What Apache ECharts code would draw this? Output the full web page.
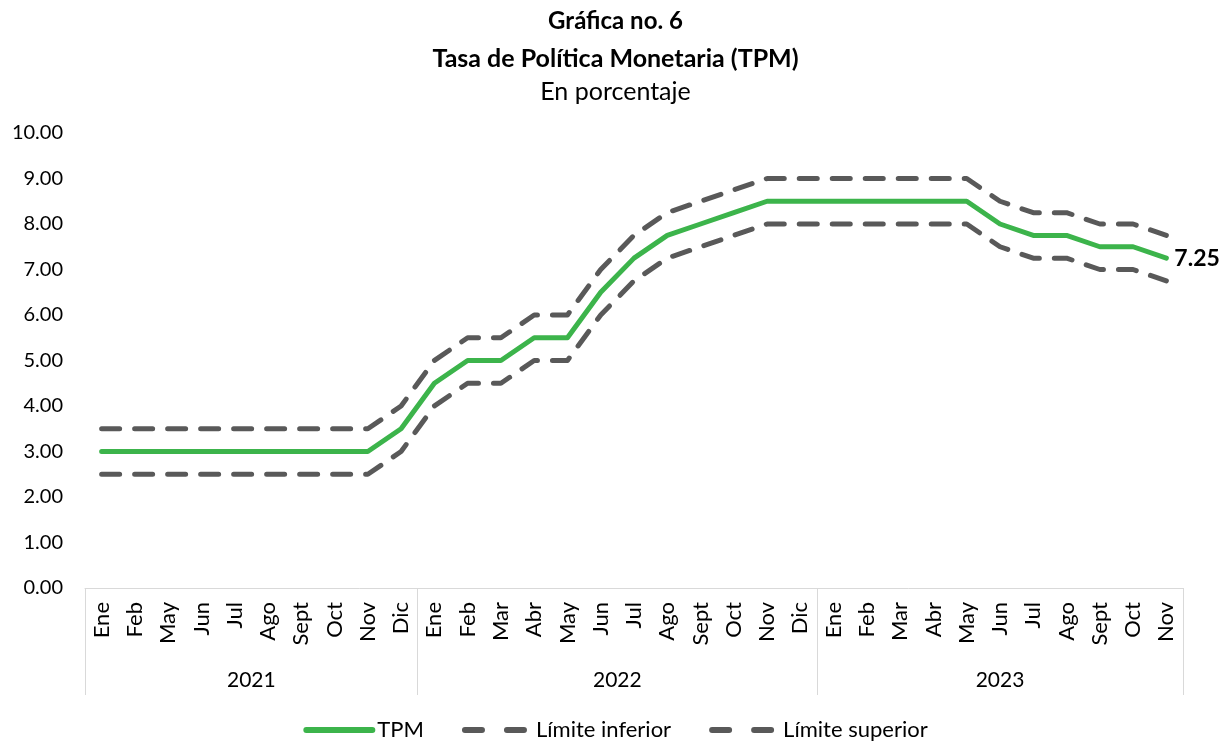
<!DOCTYPE html>
<html>
<head>
<meta charset="utf-8">
<title>Tasa de Política Monetaria (TPM)</title>
<script src="https://cdn.jsdelivr.net/npm/echarts@6/dist/echarts.min.js"></script>
<style>
  html, body { margin: 0; padding: 0; background: #fff; }
  #chart { width: 1231px; height: 746px; }
</style>
</head>
<body>
<div id="chart"></div>
<script>
// meses por año (eje de categorías de dos niveles)
const years = ["2021", "2022", "2023"];
const months2021 = ["Ene", "Feb", "May", "Jun", "Jul", "Ago", "Sept", "Oct", "Nov", "Dic"];
const months2022 = ["Ene", "Feb", "Mar", "Abr", "May", "Jun", "Jul", "Ago", "Sept", "Oct", "Nov", "Dic"];
const months2023 = ["Ene", "Feb", "Mar", "Abr", "May", "Jun", "Jul", "Ago", "Sept", "Oct", "Nov"];

// series (porcentaje)
const tpm = [3, 3, 3, 3, 3, 3, 3, 3, 3, 3.5,
  4.5, 5, 5, 5.5, 5.5, 6.5, 7.25, 7.75, 8, 8.25, 8.5, 8.5,
  8.5, 8.5, 8.5, 8.5, 8.5, 8, 7.75, 7.75, 7.5, 7.5, 7.25];
const limiteInferior = [2.5, 2.5, 2.5, 2.5, 2.5, 2.5, 2.5, 2.5, 2.5, 3,
  4, 4.5, 4.5, 5, 5, 6, 6.75, 7.25, 7.5, 7.75, 8, 8,
  8, 8, 8, 8, 8, 7.5, 7.25, 7.25, 7, 7, 6.75];
const limiteSuperior = [3.5, 3.5, 3.5, 3.5, 3.5, 3.5, 3.5, 3.5, 3.5, 4,
  5, 5.5, 5.5, 6, 6, 7, 7.75, 8.25, 8.5, 8.75, 9, 9,
  9, 9, 9, 9, 9, 8.5, 8.25, 8.25, 8, 8, 7.75];

const yTicks = [0, 1, 2, 3, 4, 5, 6, 7, 8, 9, 10];

const monthGroups = [months2021, months2022, months2023];
const categories = [].concat(...monthGroups);

// eje auxiliar en medios meses: etiqueta del año en el centro de cada grupo,
// marcas en los límites entre años
const halfSteps = [];
const boundaries = [0];
let pos = 0;
monthGroups.forEach((g, i) => {
  const mid = pos * 2 + g.length;
  for (let k = pos * 2; k < (pos + g.length) * 2; k++) {
    halfSteps.push(k === mid ? years[i] : "");
  }
  pos += g.length;
  boundaries.push(pos * 2);
});
halfSteps.push("");

const font = 'Lato, "Open Sans", sans-serif';
const green = "#3cb44b";
const gray = "#595959";
const axisGray = "#d9d9d9";

const chart = echarts.init(document.getElementById("chart"));
chart.setOption({
  animation: false,
  textStyle: { fontFamily: font },
  title: [
    { text: "Gráfica no. 6", left: "center", top: 4,
      textStyle: { fontSize: 24, fontWeight: "bold", color: "#000", fontFamily: font } },
    { text: "Tasa de Política Monetaria (TPM)", left: "center", top: 41,
      textStyle: { fontSize: 25, fontWeight: "bold", color: "#000", fontFamily: font } },
    { text: "En porcentaje", left: "center", top: 74,
      textStyle: { fontSize: 25, fontWeight: "normal", color: "#000", fontFamily: font } }
  ],
  legend: {
    bottom: 0,
    left: "center",
    itemWidth: 66,
    itemHeight: 14,
    itemGap: 38,
    itemStyle: { opacity: 0 },
    lineStyle: { width: 6 },
    textStyle: { fontSize: 22, color: "#000", fontFamily: font },
    data: [
      { name: "TPM" },
      { name: "Límite inferior", lineStyle: { type: [17, 25] } },
      { name: "Límite superior", lineStyle: { type: [17, 25] } }
    ]
  },
  grid: { left: 85, right: 48, top: 133, bottom: 158 },
  xAxis: [
    {
      type: "category",
      data: categories,
      position: "bottom",
      boundaryGap: true,
      axisLine: { lineStyle: { color: axisGray, width: 1 } },
      axisTick: { show: false },
      axisLabel: { interval: 0, rotate: 90, margin: 14, fontSize: 22, color: "#000", fontFamily: font }
    },
    {
      type: "category",
      data: halfSteps,
      position: "bottom",
      boundaryGap: false,
      axisLine: { show: false },
      axisTick: {
        show: true,
        length: 107,
        inside: false,
        interval: (index) => boundaries.indexOf(index) !== -1,
        lineStyle: { color: axisGray, width: 1 }
      },
      axisLabel: { interval: 0, margin: 82, fontSize: 21, color: "#000", fontFamily: font }
    }
  ],
  yAxis: {
    type: "value",
    min: yTicks[0],
    max: yTicks[yTicks.length - 1],
    interval: 1,
    axisLine: { show: false },
    axisTick: { show: false },
    splitLine: { show: false },
    axisLabel: {
      margin: 22,
      fontSize: 20,
      color: "#000",
      fontFamily: font,
      formatter: (v) => v.toFixed(2)
    }
  },
  series: [
    {
      name: "TPM",
      type: "line",
      xAxisIndex: 0,
      symbol: "none",
      z: 3,
      lineStyle: { color: green, width: 5, cap: "round", join: "round" },
      itemStyle: { color: green },
      endLabel: {
        show: true,
        distance: 8,
        formatter: (p) => p.value.toFixed(2),
        fontSize: 23,
        fontWeight: "bold",
        color: "#000",
        fontFamily: font
      },
      data: tpm
    },
    {
      name: "Límite inferior",
      type: "line",
      xAxisIndex: 0,
      symbol: "none",
      lineStyle: { color: gray, width: 5, type: [18, 15], cap: "round", join: "round" },
      itemStyle: { color: gray },
      data: limiteInferior
    },
    {
      name: "Límite superior",
      type: "line",
      xAxisIndex: 0,
      symbol: "none",
      lineStyle: { color: gray, width: 5, type: [18, 15], cap: "round", join: "round" },
      itemStyle: { color: gray },
      data: limiteSuperior
    }
  ]
});
</script>
</body>
</html>
